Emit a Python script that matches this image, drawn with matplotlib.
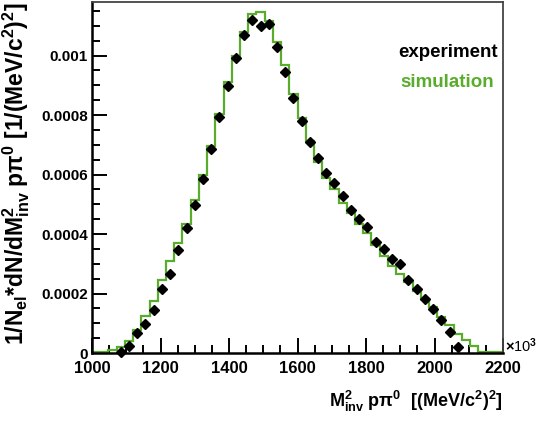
import numpy as np
import matplotlib
matplotlib.use("Agg")
import matplotlib.pyplot as plt
from matplotlib.ticker import MultipleLocator, FuncFormatter

# Histogram binning of the invariant-mass axis (units of 10^3 (MeV/c^2)^2)
hist_range = (1000, 2200)
n_bins = 50

# Simulated distribution, one value per bin
simulation = [
    0.000002, 0.000004, 0.000011, 0.000021, 0.000039, 0.000077, 0.000123, 0.000175,
    0.000245, 0.000309, 0.000371, 0.000435, 0.000513, 0.000598, 0.000695, 0.000805,
    0.000912, 0.001000, 0.001078, 0.001140, 0.001145, 0.001115, 0.001045, 0.000967,
    0.000870, 0.000790, 0.000712, 0.000642, 0.000588, 0.000550, 0.000505, 0.000470,
    0.000435, 0.000405, 0.000362, 0.000326, 0.000292, 0.000267, 0.000239, 0.000208,
    0.000180, 0.000153, 0.000122, 0.000094, 0.000065, 0.000045, 0.000022, 0.000003,
    0.000002, 0.000002,
]

# Measured distribution, starting at bin index exp_first_bin
exp_first_bin = 3
experiment = [
    0.000003, 0.000025, 0.000067, 0.000099, 0.000144, 0.000214, 0.000267, 0.000345,
    0.000420, 0.000498, 0.000586, 0.000685, 0.000795, 0.000896, 0.000992, 0.001070,
    0.001118, 0.001098, 0.001105, 0.001028, 0.000944, 0.000858, 0.000781, 0.000709,
    0.000655, 0.000605, 0.000572, 0.000528, 0.000481, 0.000451, 0.000425, 0.000374,
    0.000348, 0.000316, 0.000299, 0.000245, 0.000214, 0.000180, 0.000149, 0.000112,
    0.000070, 0.000019,
]

legend_labels = ["experiment", "simulation"]

green = "#5aac2c"

plt.rcParams["font.family"] = ["Liberation Sans", "DejaVu Sans"]
plt.rcParams["font.weight"] = "bold"
plt.rcParams["mathtext.fontset"] = "custom"
plt.rcParams["mathtext.rm"] = "Liberation Sans:bold"
plt.rcParams["mathtext.it"] = "Liberation Sans:bold"
plt.rcParams["mathtext.bf"] = "Liberation Sans:bold"

edges = np.linspace(hist_range[0], hist_range[1], n_bins + 1)
centers = 0.5 * (edges[:-1] + edges[1:])
exp_x = centers[exp_first_bin:exp_first_bin + len(experiment)]

fig = plt.figure(figsize=(5.36, 4.23), dpi=100)
ax = fig.add_axes([92 / 536, 1 - 353 / 423, (503 - 92) / 536, (353 - 2) / 423])

ax.stairs(simulation, edges, color=green, lw=1.6, zorder=2)
ax.plot(exp_x, experiment, "D", color="black", ms=5.5, clip_on=False, zorder=3)

ax.set_xlim(hist_range)
ax.set_ylim(0, 0.00118)

ax.xaxis.set_major_locator(MultipleLocator(200))
ax.xaxis.set_minor_locator(MultipleLocator(50))
ax.yaxis.set_major_locator(MultipleLocator(0.0002))
ax.yaxis.set_minor_locator(MultipleLocator(0.00005))
ax.yaxis.set_major_formatter(FuncFormatter(lambda v, p: "%g" % round(v, 6)))

ax.tick_params(which="both", direction="in", top=False, right=False, width=1.4,
               color="black")
ax.tick_params(axis="y", labelsize=11)
ax.tick_params(axis="x", labelsize=12)
ax.tick_params(which="major", length=11)
ax.tick_params(which="minor", length=6)
ax.tick_params(axis="x", pad=6)
ax.tick_params(axis="y", pad=3)

for side in ("left", "bottom"):
    ax.spines[side].set_linewidth(1.8)
    ax.spines[side].set_color("black")
for side in ("top", "right"):
    ax.spines[side].set_linewidth(1.3)
    ax.spines[side].set_color("#444444")

ax.text(0.744, 0.855, legend_labels[0], transform=ax.transAxes, fontsize=13.5,
        fontweight="bold", color="black", ha="left", va="center")
ax.text(0.751, 0.77, legend_labels[1], transform=ax.transAxes, fontsize=13.5,
        fontweight="bold", color=green, ha="left", va="center")

fig.text(505 / 536, 1 - 355 / 423, r"$\times$10$^{3}$", fontsize=10.5,
         fontweight="normal", ha="left", va="bottom",
         family=["Liberation Sans", "DejaVu Sans"])

fig.text(503 / 536, 1 - 389 / 423,
         "M$^{2}_{inv}$ pπ$^{0}$  [(MeV/c$^{2}$)$^{2}$]",
         fontsize=13, ha="right", va="top")

fig.text(16 / 536, 1 - 2 / 423,
         "1/N$_{el}$*dN/dM$^{2}_{inv}$ pπ$^{0}$ [1/(MeV/c$^{2}$)$^{2}$]",
         fontsize=16.5, rotation=90, ha="center", va="top")

fig.savefig("out.png", dpi=100, facecolor="white")
